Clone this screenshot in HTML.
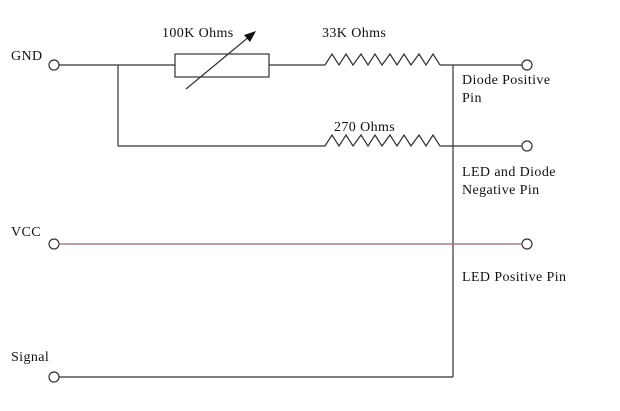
<!DOCTYPE html>
<html><head><style>
html,body{margin:0;padding:0;background:#fff;}
svg{display:block;}
text{font-family:"Liberation Serif",serif;font-size:14px;letter-spacing:0.4px;fill:#111;}
</style></head><body>
<svg width="620" height="411" viewBox="0 0 620 411">
<g stroke="#333" stroke-width="1.2" fill="none">
<circle cx="54" cy="65" r="5" fill="#fff"/>
<line x1="59" y1="65" x2="175" y2="65"/>
<line x1="118" y1="65" x2="118" y2="146"/>
<rect x="175" y="54" width="94" height="23" fill="#fff"/>
<line x1="269" y1="65" x2="325" y2="65"/>
<path d="M325 65 L332 54 L339 65 L346 54 L353 65 L361 54 L368 65 L375 54 L382 65 L390 54 L397 65 L404 54 L411 65 L419 54 L426 65 L433 54 L440 65"/>
<line x1="440" y1="65" x2="522" y2="65"/>
<circle cx="527" cy="65" r="5" fill="#fff"/>
<line x1="118" y1="146" x2="325" y2="146"/>
<path d="M325 146 L332 135 L339 146 L346 135 L353 146 L361 135 L368 146 L375 135 L382 146 L390 135 L397 146 L404 135 L411 146 L419 135 L426 146 L433 135 L440 146"/>
<line x1="440" y1="146" x2="522" y2="146"/>
<circle cx="527" cy="146" r="5" fill="#fff"/>
<line x1="453" y1="65" x2="453" y2="377"/>
<line x1="59" y1="377" x2="453" y2="377"/>
<circle cx="54" cy="377" r="5" fill="#fff"/>
<circle cx="54" cy="244" r="5" fill="#fff"/>
<circle cx="527" cy="244" r="5" fill="#fff"/>
<line x1="186" y1="89" x2="250" y2="36"/>
</g>
<line x1="59" y1="244" x2="522" y2="244" stroke="#a86070" stroke-width="1.3"/>
<polygon points="256,31 244,35 250,42" fill="#111"/>
<text x="11" y="60">GND</text>
<text x="162" y="37">100K Ohms</text>
<text x="322" y="37">33K Ohms</text>
<text x="462" y="84">Diode  Positive</text>
<text x="462" y="102">Pin</text>
<text x="334" y="131">270 Ohms</text>
<text x="462" y="176">LED and Diode</text>
<text x="462" y="194">Negative Pin</text>
<text x="11" y="236">VCC</text>
<text x="462" y="281">LED Positive Pin</text>
<text x="11" y="361">Signal</text>
</svg>
</body></html>
